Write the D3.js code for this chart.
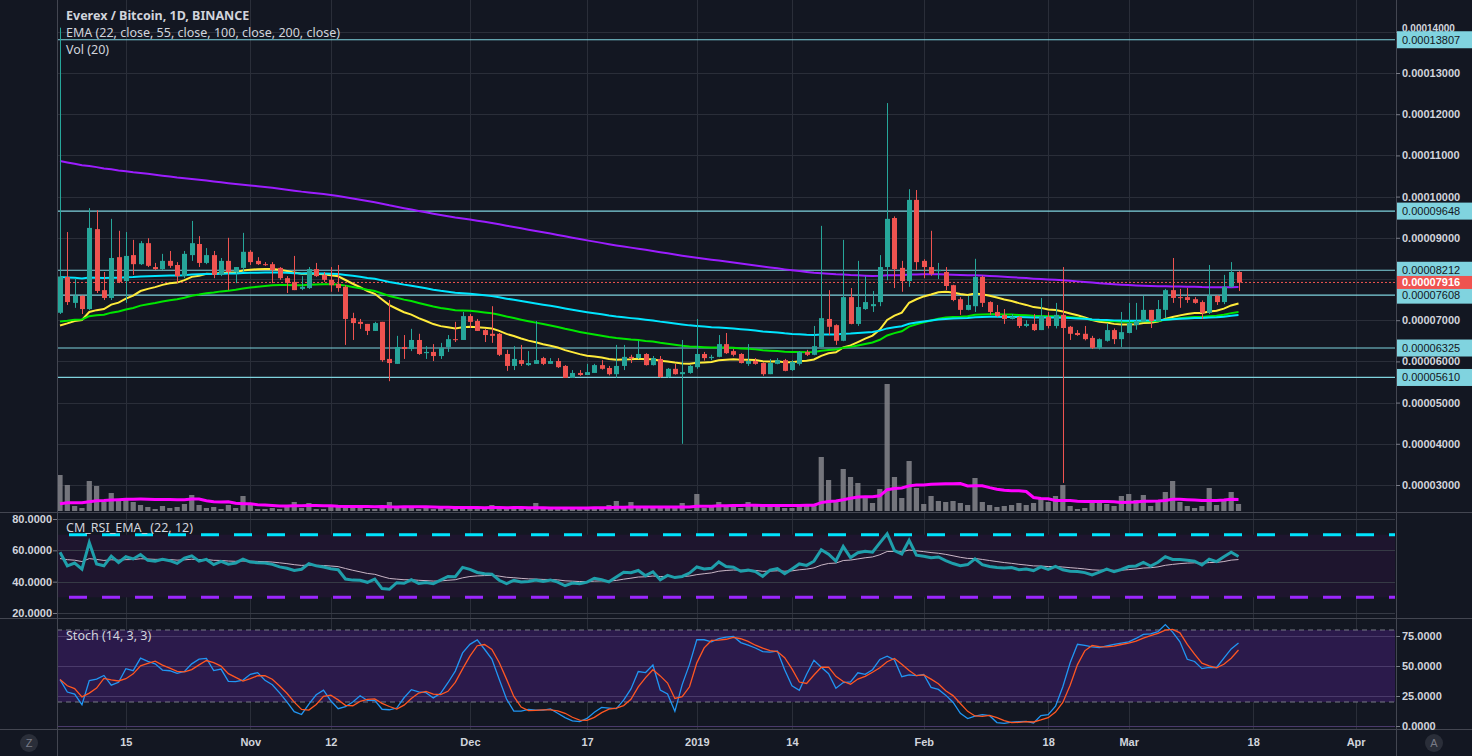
<!DOCTYPE html>
<html><head><meta charset="utf-8">
<script src="https://cdn.jsdelivr.net/npm/d3@7/dist/d3.min.js"></script>
<style>html,body{margin:0;padding:0;background:#131722;overflow:hidden}</style>
</head><body><svg id="c" width="1472" height="756"></svg>
<script>
// ---- DATA (prices in units of 1e-8 BTC) ----
const openP=[7180,8050,7420,7590,7270,9210,7730,7540,8530,7950,8580,8360,8870,8290,8240,8440,8340,8070,8580,8850,8390,8580,8100,8440,8170,8270,8660,8440,8360,8360,8270,8020,7930,7760,7780,8240,8100,7980,7880,7810,7050,6960,6910,6740,6960,6060,5940,6350,6300,6520,6200,6230,6130,6350,6540,6520,7100,6980,6760,6670,6670,6180,5890,6030,5910,5940,6080,5940,6010,5890,5600,5720,5670,5720,5910,5840,5690,5890,6110,6080,6180,5910,6060,5620,5820,5690,5720,5860,6180,6080,6110,6420,6250,6180,5940,6010,5960,5690,5940,6030,5790,5940,6230,6160,6350,7030,6880,6500,7560,6910,7270,7340,7440,8290,9480,8270,7950,9920,8440,8290,8190,8170,7850,7510,7250,7340,8050,7440,7200,7130,7030,7080,6860,6910,6760,7080,6860,7130,6840,6690,6670,6570,6330,6500,6760,6540,6690,6880,6960,7250,6980,7250,7730,7560,7560,7510,7440,7180,7590,7440,7810,8170];
const highP=[14100,9140,8020,7600,9720,9670,8170,9460,9170,9140,8950,8920,8990,8390,8610,8680,8410,8680,9410,9040,8750,8680,8510,9000,8290,9120,8700,8530,8410,8410,8290,8070,8560,8070,8290,8390,8170,8290,8340,7850,7180,7030,6910,6960,6960,7490,6620,6640,6790,6670,6370,6420,6450,6640,6960,7200,7150,7030,6790,7340,6690,6280,6370,6400,6250,6980,6110,6080,6080,5910,5790,5790,5940,5940,6030,5890,6400,6400,6160,6500,6200,6130,6130,5840,5940,6520,5910,7030,6230,6160,6640,6690,6300,6200,6420,6080,5980,6060,6080,6060,6030,6250,6280,6860,9290,7730,6900,8950,7780,8440,8070,7710,8580,12270,9520,8440,10180,10160,8480,9170,8390,8290,7860,7560,7590,8490,8080,7460,7370,7270,7150,7100,7000,7150,7540,7200,7420,8290,6860,6760,6860,6620,6560,6930,6800,7200,7420,7420,7590,7250,7490,7760,8510,7760,7780,7560,7480,8340,7610,8100,8410,8190];
const lowP=[7150,7370,7300,7150,7250,7660,7490,7490,7900,7420,8100,8340,8290,8220,8220,8270,7900,8020,8440,8290,8360,8020,8070,7730,7900,8170,8340,8340,8320,7900,7980,7660,7730,7730,7760,8050,7930,7690,7690,6400,6520,6790,6640,6740,5990,5520,5940,6060,6250,6160,6060,6010,6060,6230,6470,6520,6810,6740,6470,6450,6130,5770,5790,5890,5890,5940,5910,5940,5840,5600,5600,5650,5670,5720,5800,5660,5600,5790,5960,6060,5900,5900,5600,5600,5680,4000,5700,5820,6020,6030,6100,6180,6120,5950,5890,5920,5650,5690,5930,5760,5770,5900,6130,6150,6340,6640,6400,6490,6900,6860,7250,7200,7340,7970,7780,7690,7810,8220,8020,8080,8000,7730,7460,7130,7240,7200,7320,7130,7080,6910,7020,6810,6830,6740,6760,6800,6800,3050,6520,6620,6510,6300,6290,6480,6420,6350,6680,6770,6950,6810,6970,7050,7420,7300,7420,7400,7030,7150,7370,7390,7790,7710];
const closeP=[8060,7440,7590,7270,9240,7710,7540,8510,7930,8560,8360,8870,8320,8240,8440,8320,8070,8610,8870,8390,8580,8100,8440,8170,8290,8660,8410,8360,8340,8220,8020,7900,7730,7810,8240,8070,7980,7850,7780,7030,6930,6910,6740,6930,6030,5960,6350,6300,6520,6180,6230,6130,6330,6540,6520,7100,6960,6740,6640,6620,6160,5890,6060,5940,5960,6030,5940,6010,5860,5600,5720,5670,5740,5910,5820,5690,5890,6110,6080,6180,5910,6080,5620,5820,5690,5740,5890,6180,6080,6110,6420,6200,6160,5960,6010,5940,5690,5960,6030,5770,5990,6230,6160,6370,7050,6840,6500,7560,6910,7320,7440,7390,8290,9460,8240,7950,9920,8410,8290,8120,8220,7830,7490,7250,7370,8050,7420,7200,7100,7030,7080,6860,6910,6760,7100,6860,7130,6810,6670,6640,6540,6330,6540,6760,6540,6710,6930,6980,7250,6980,7270,7730,7540,7540,7490,7420,7180,7590,7440,7810,8170,7916];
const volume=[36,26,5,3,30,25,9,18,11,13,9,6,4,2,5,3,4,7,16,6,3,4,2,6,3,15,6,2,2,3,2,5,9,3,8,2,2,5,5,3,5,3,2,2,5,9,5,3,3,2,3,2,3,2,3,2,3,4,3,6,3,2,3,2,3,8,3,2,3,2,3,2,3,3,3,6,10,5,9,4,3,3,3,3,3,8,1,17,3,5,9,6,5,3,9,6,6,6,6,3,3,6,6,6,54,31,9,42,34,28,15,8,22,127,34,13,50,23,7,15,10,9,10,8,6,33,9,6,4,5,6,8,6,8,12,9,15,26,5,2,3,10,8,7,5,15,17,11,16,5,10,19,30,9,5,3,5,23,6,11,19,7];
const priorVolume=[5,6,5,6,7,5,6,6,5,6,5,6,7,6,5,6,6,5,6];
const emaLengths=[22,55,100,200];
const emaSeeds=[6760,6930,8050,10890];
const emaColors=["#ffeb3b","#00e600","#00e5ff","#9c1dff"];
const rsiSeedGain=100, rsiSeedLoss=70, rsiEmaSeed=54;
const stochPriorHigh=9900, stochPriorLow=6900;
const levels=[13807,9648,8212,7608,6325,5610];
const lastPrice=7916;
const priceTicks=[3000,4000,5000,6000,7000,9000,10000,11000,12000,13000,14000];
const rsiTicks=[20,40,60,80];
const stochTicks=[0,25,50,75];
const tickDates=["2018-10-15","2018-11-01","2018-11-12","2018-12-01","2018-12-17","2019-01-01","2019-01-14","2019-02-01","2019-02-18","2019-03-01","2019-03-18","2019-04-01"];
const tickLabels=["15","Nov","12","Dec","17","2019","14","Feb","18","Mar","18","Apr"];

// ---- SCALES ----
const DAY=864e5, start=new Date(2018,9,6);
const dateOf=i=>new Date(start.getTime()+i*DAY);
const L=57,R=1395;
const x=d3.scaleTime().domain([dateOf(-0.41),dateOf(182.38)]).range([L,R]);
const y=d3.scaleLinear().domain([3000,13000]).range([485,73]);
const yv=d3.scaleLinear().domain([0,127]).range([511,384]);
const yr=d3.scaleLinear().domain([20,80]).range([613,519]);
const ys=d3.scaleLinear().domain([0,75]).range([726,636]);
const svg=d3.select("#c");
const idx=d3.range(closeP.length);
const FONT="'Liberation Sans',Arial,sans-serif";
const grid="#2a2e39";

// ---- indicators ----
function ema(vals,n,seed){const a=2/(n+1);let e=seed;return vals.map(v=>e=e+a*(v-e));}
const emas=emaLengths.map((n,k)=>ema(closeP,n,emaSeeds[k]));
const allVol=priorVolume.concat(volume);
const volSma=idx.map(i=>d3.mean(allVol.slice(i,i+20)));
let ag=rsiSeedGain,al=rsiSeedLoss;
const rsi=idx.map(i=>{if(i>0){const ch=closeP[i]-closeP[i-1];ag=(ag*21+Math.max(ch,0))/22;al=(al*21+Math.max(-ch,0))/22;}return 100-100/(1+ag/al);});
const rsiE=ema(rsi,12,rsiEmaSeed);
const raw=idx.map(i=>{const s=Math.max(0,i-13);
 const hs=highP.slice(s,i+1).filter(v=>v<14000), ls=lowP.slice(s,i+1);
 if(i<13){hs.push(stochPriorHigh);ls.push(stochPriorLow);}
 const hh=d3.max(hs),ll=d3.min(ls); return Math.max(0,Math.min(100,(closeP[i]-ll)/(hh-ll)*100));});
const sma3=a=>a.map((v,i)=>d3.mean(a.slice(Math.max(0,i-2),i+1)));
const stK=sma3(raw),stD=sma3(stK);

// ---- clips ----
const defs=svg.append("defs");
defs.append("clipPath").attr("id","cm").append("rect").attr("x",L).attr("y",0).attr("width",R-L).attr("height",511);
defs.append("clipPath").attr("id","cr").append("rect").attr("x",L).attr("y",513).attr("width",R-L).attr("height",104);
defs.append("clipPath").attr("id","cs").append("rect").attr("x",L).attr("y",619).attr("width",R-L).attr("height",110);

// ---- grid ----
const vg=svg.append("g");
tickDates.forEach(d=>{const xx=Math.round(x(new Date(d+"T00:00")))+0.5;vg.append("line").attr("x1",xx).attr("x2",xx).attr("y1",0).attr("y2",729).attr("stroke",grid);});
const mg=svg.append("g").attr("clip-path","url(#cm)");
priceTicks.concat([8000]).forEach(p=>mg.append("line").attr("x1",L).attr("x2",R).attr("y1",Math.round(y(p))+0.5).attr("y2",Math.round(y(p))+0.5).attr("stroke",grid));

// ---- volume ----
mg.selectAll(".v").data(idx).join("rect").attr("x",i=>x(dateOf(i))-2.6).attr("width",5.2)
 .attr("y",i=>yv(volume[i])).attr("height",i=>yv(0)-yv(volume[i])).attr("fill","#808086").attr("opacity",0.9);
mg.append("path").datum(idx).attr("fill","none").attr("stroke","#ff00ff").attr("stroke-width",3)
 .attr("d",d3.line().x(i=>x(dateOf(i))).y(i=>yv(volSma[i])));

// ---- levels ----
levels.forEach(p=>mg.append("line").attr("x1",L).attr("x2",R).attr("y1",y(p)).attr("y2",y(p)).attr("stroke","#7fd3de").attr("stroke-width",1.2));
mg.append("line").attr("x1",L).attr("x2",R).attr("y1",y(lastPrice)).attr("y2",y(lastPrice)).attr("stroke","#ef5350").attr("stroke-dasharray","2,2");

// ---- EMAs ----
emas.forEach((e,k)=>mg.append("path").datum(idx).attr("fill","none").attr("stroke",emaColors[k]).attr("stroke-width",2)
 .attr("d",d3.line().x(i=>x(dateOf(i))).y(i=>y(e[i]))));

// ---- candles ----
const col=i=>closeP[i]>=openP[i]?"#26a69a":"#ef5350";
mg.selectAll(".w").data(idx).join("line").attr("x1",i=>Math.round(x(dateOf(i)))+0.5).attr("x2",i=>Math.round(x(dateOf(i)))+0.5)
 .attr("y1",i=>y(highP[i])).attr("y2",i=>y(lowP[i])).attr("stroke",col);
mg.selectAll(".b").data(idx).join("rect").attr("x",i=>Math.round(x(dateOf(i)))-2).attr("width",5)
 .attr("y",i=>y(Math.max(openP[i],closeP[i]))).attr("height",i=>Math.max(1,Math.abs(y(openP[i])-y(closeP[i])))).attr("fill",col);

// ---- RSI panel ----
const rg=svg.append("g").attr("clip-path","url(#cr)");
rg.append("rect").attr("x",L).attr("width",R-L).attr("y",yr(70)).attr("height",yr(30)-yr(70)).attr("fill","#1e152e");
rsiTicks.forEach(v=>rg.append("line").attr("x1",L).attr("x2",R).attr("y1",Math.round(yr(v))+0.5).attr("y2",Math.round(yr(v))+0.5).attr("stroke","#363a45"));
rg.append("line").attr("x1",L+12).attr("x2",R).attr("y1",yr(70)).attr("y2",yr(70)).attr("stroke","#00e5ff").attr("stroke-width",3).attr("stroke-dasharray","18,15");
rg.append("line").attr("x1",L+12).attr("x2",R).attr("y1",yr(30)).attr("y2",yr(30)).attr("stroke","#9c27ff").attr("stroke-width",3).attr("stroke-dasharray","18,15");
rg.append("path").datum(idx).attr("fill","none").attr("stroke","#c9b6c6").attr("stroke-width",1).attr("d",d3.line().x(i=>x(dateOf(i))).y(i=>yr(rsiE[i])));
rg.append("path").datum(idx).attr("fill","none").attr("stroke","#1f9fab").attr("stroke-width",3).attr("d",d3.line().x(i=>x(dateOf(i))).y(i=>yr(rsi[i])));

// ---- Stoch panel ----
const sg=svg.append("g").attr("clip-path","url(#cs)");
sg.append("rect").attr("x",L).attr("width",R-L).attr("y",ys(80)).attr("height",ys(20)-ys(80)).attr("fill","#2b1a4b");
stochTicks.forEach(v=>sg.append("line").attr("x1",L).attr("x2",R).attr("y1",Math.round(ys(v))+0.5).attr("y2",Math.round(ys(v))+0.5).attr("stroke","#4a3a6a"));
[80,20].forEach(v=>sg.append("line").attr("x1",L).attr("x2",R).attr("y1",ys(v)).attr("y2",ys(v)).attr("stroke","#787b86").attr("stroke-dasharray","5,4"));
sg.append("path").datum(idx).attr("fill","none").attr("stroke","#2196f3").attr("stroke-width",1.3).attr("d",d3.line().x(i=>x(dateOf(i))).y(i=>ys(stK[i])));
sg.append("path").datum(idx).attr("fill","none").attr("stroke","#ff5722").attr("stroke-width",1.3).attr("d",d3.line().x(i=>x(dateOf(i))).y(i=>ys(stD[i])));

// ---- separators ----
const sep="#434651";
[512,618,729].forEach(v=>svg.append("line").attr("x1",0).attr("x2",1472).attr("y1",v+0.5).attr("y2",v+0.5).attr("stroke",sep));
svg.append("line").attr("x1",L+0.5).attr("x2",L+0.5).attr("y1",0).attr("y2",756).attr("stroke",sep);
svg.append("line").attr("x1",R+1.5).attr("x2",R+1.5).attr("y1",0).attr("y2",756).attr("stroke",sep);

// ---- axes ----
const tc="#d1d4dc";
const pa=svg.append("g").attr("transform",`translate(${R+1},0)`).call(d3.axisRight(y).tickValues(priceTicks).tickSize(4).tickFormat(p=>(p/1e8).toFixed(8)));
pa.select(".domain").remove();
pa.selectAll("line").attr("stroke","#787b86");
pa.selectAll("text").attr("fill",tc).attr("font-family",FONT).attr("font-size",11).attr("font-weight","bold").attr("x",6);
pa.selectAll(".tick").filter(p=>p===14000).select("text").attr("dy","-0.05em").attr("font-size",10);
const sa=svg.append("g").attr("transform",`translate(${R+1},0)`).call(d3.axisRight(ys).tickValues(stochTicks).tickSize(4).tickFormat(d3.format(".4f")));
sa.select(".domain").remove();sa.selectAll("line").attr("stroke","#787b86");
sa.selectAll("text").attr("fill",tc).attr("font-family",FONT).attr("font-size",11).attr("font-weight","bold").attr("x",6);
const ra=svg.append("g").attr("transform",`translate(${L},0)`).call(d3.axisLeft(yr).tickValues(rsiTicks).tickSize(4).tickFormat(d3.format(".4f")));
ra.select(".domain").remove();ra.selectAll("line").attr("stroke","#787b86");
ra.selectAll("text").attr("fill",tc).attr("font-family",FONT).attr("font-size",11).attr("font-weight","bold").attr("x",-5);
const xa=svg.append("g").attr("transform","translate(0,729)").call(d3.axisBottom(x).tickValues(tickDates.map(d=>new Date(d+"T00:00"))).tickSize(0).tickFormat((d,i)=>tickLabels[i]));
xa.select(".domain").remove();
xa.selectAll("text").attr("fill",tc).attr("font-family",FONT).attr("font-size",11).attr("font-weight","bold").attr("dy","1.3em");

// ---- level labels ----
levels.forEach(p=>{const g=svg.append("g");g.append("rect").attr("x",R+2).attr("y",y(p)-8.5).attr("width",75).attr("height",17).attr("fill","#80d3df");
 g.append("text").attr("x",R+7).attr("y",y(p)+4).attr("font-family",FONT).attr("font-size",11).attr("fill","#131722").text((p/1e8).toFixed(8));});
const lp=svg.append("g");lp.append("rect").attr("x",R+2).attr("y",y(lastPrice)-6.5).attr("width",75).attr("height",13).attr("fill","#ef5350");
lp.append("text").attr("x",R+7).attr("y",y(lastPrice)+4).attr("font-family",FONT).attr("font-size",11).attr("font-weight","bold").attr("fill","#ffffff").text((lastPrice/1e8).toFixed(8));

// ---- legends ----
const LF="'Noto Sans',sans-serif";
svg.append("text").attr("x",66).attr("y",20).attr("font-family",LF).attr("font-size",12.5).attr("font-weight","bold").attr("fill",tc).text("Everex / Bitcoin, 1D, BINANCE");
svg.append("text").attr("x",66).attr("y",37).attr("font-family",LF).attr("font-size",12.5).attr("fill",tc).text("EMA (22, close, 55, close, 100, close, 200, close)");
svg.append("text").attr("x",66).attr("y",54).attr("font-family",LF).attr("font-size",12.5).attr("fill",tc).text("Vol (20)");
svg.append("text").attr("x",66).attr("y",532).attr("font-family",LF).attr("font-size",12.5).attr("fill",tc).text("CM_RSI_EMA_ (22, 12)");
svg.append("text").attr("x",66).attr("y",640).attr("font-family",LF).attr("font-size",12.5).attr("fill",tc).text("Stoch (14, 3, 3)");
[[29,"Z"],[1434,"A"]].forEach(([cx,t])=>{svg.append("circle").attr("cx",cx).attr("cy",743).attr("r",9).attr("fill","#2a2e39");
 svg.append("text").attr("x",cx).attr("y",747).attr("text-anchor","middle").attr("font-family",FONT).attr("font-size",11).attr("fill","#787b86").text(t);});
</script></body></html>
